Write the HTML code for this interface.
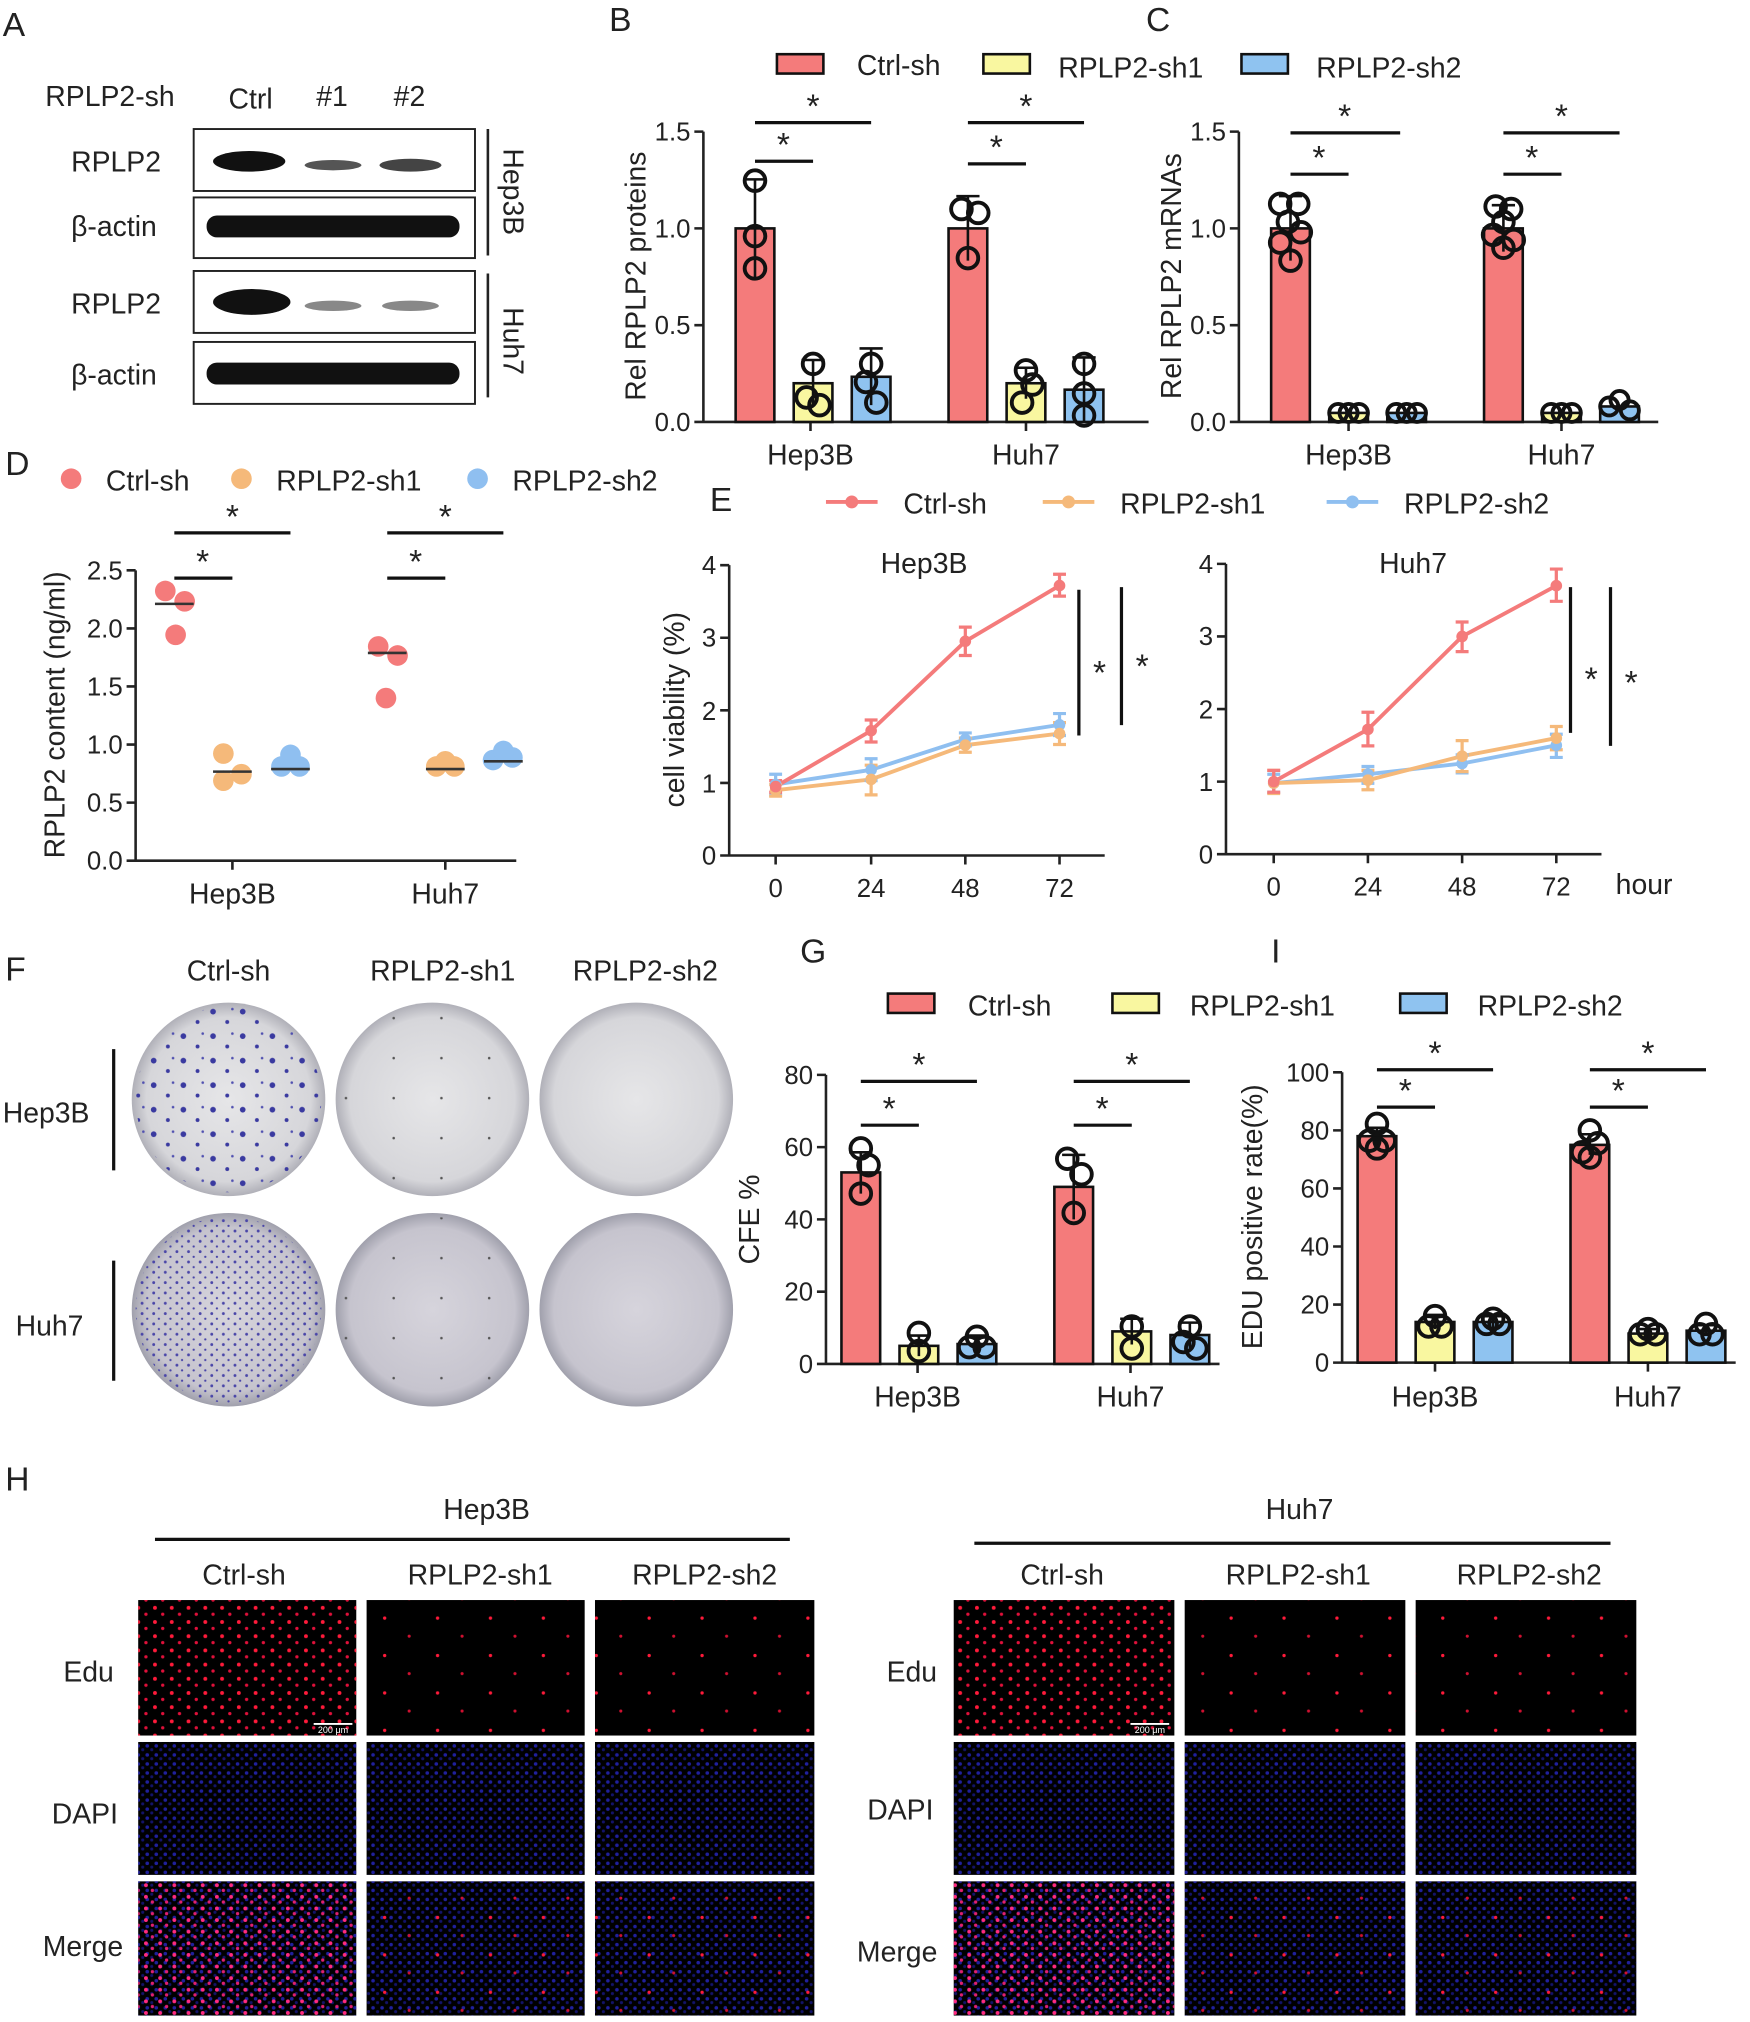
<!DOCTYPE html>
<html><head><meta charset="utf-8">
<style>
html,body{margin:0;padding:0;background:#fff;}
svg{display:block;}
text{font-family:"Liberation Sans",Arial,sans-serif;fill:#222;}
.ax{stroke:#222;stroke-width:2;fill:none}
.b{stroke:#111;stroke-width:2}
.p{fill:none;stroke:#111;stroke-width:3}
.st{stroke:#111;stroke-width:2.5}
</style></head><body>
<svg width="1750" height="2022" viewBox="0 0 1356 1567" xmlns="http://www.w3.org/2000/svg">
<defs>
<radialGradient id="plate" cx="50%" cy="50%" r="50%"><stop offset="0" stop-color="#e6e6e8"/><stop offset="0.85" stop-color="#d6d6da"/><stop offset="1" stop-color="#b0b0b8"/></radialGradient>
<radialGradient id="plate2" cx="50%" cy="50%" r="50%"><stop offset="0" stop-color="#d6d4dc"/><stop offset="0.85" stop-color="#c6c4ce"/><stop offset="1" stop-color="#a0a0ac"/></radialGradient>
<pattern id="col1" width="23" height="19" patternUnits="userSpaceOnUse"><circle cx="4" cy="5" r="2.2" fill="#3a3aa0"/><circle cx="15" cy="13" r="1.5" fill="#3a3aa0"/><circle cx="19" cy="3" r="1" fill="#5050b0"/></pattern>
<pattern id="col2" width="9" height="8" patternUnits="userSpaceOnUse"><circle cx="2" cy="2" r="1.1" fill="#4a46a8"/><circle cx="6" cy="6" r="0.9" fill="#4a46a8"/></pattern>
<pattern id="col3" width="37" height="31" patternUnits="userSpaceOnUse"><circle cx="9" cy="14" r="1" fill="#555"/></pattern>
<pattern id="red1" width="13" height="11" patternUnits="userSpaceOnUse"><circle cx="3" cy="3" r="1.5" fill="#ff1a3a"/><circle cx="9" cy="8" r="1.3" fill="#e0103a"/></pattern>
<pattern id="red2" width="41" height="29" patternUnits="userSpaceOnUse"><circle cx="11" cy="7" r="1.3" fill="#ff1a3a"/><circle cx="30" cy="21" r="1.2" fill="#d01030"/></pattern>
<pattern id="blu" width="7" height="7" patternUnits="userSpaceOnUse"><circle cx="2" cy="2" r="1.4" fill="#2a2ad0" fill-opacity="0.75"/><circle cx="5.5" cy="5" r="1.2" fill="#2020b0" fill-opacity="0.6"/></pattern>
<pattern id="mrg" width="11" height="9" patternUnits="userSpaceOnUse"><circle cx="3" cy="3" r="1.5" fill="#ff2a80"/><circle cx="8" cy="7" r="1.3" fill="#e02070"/></pattern>
</defs>
<g font-size="22">
<text x="2" y="28" font-size="26">A</text>
<text x="472" y="24" font-size="26">B</text>
<text x="888" y="24" font-size="26">C</text>
<text x="4" y="368" font-size="26">D</text>
<text x="550" y="396" font-size="26">E</text>
<text x="4" y="760" font-size="26">F</text>
<text x="620" y="746" font-size="26">G</text>
<text x="985" y="746" font-size="26">I</text>
<text x="4" y="1155" font-size="26">H</text>

<!-- Panel A -->
<text x="35" y="82">RPLP2-sh</text>
<text x="177" y="84">Ctrl</text><text x="245" y="82">#1</text><text x="305" y="82">#2</text>
<g fill="#fff" stroke="#222" stroke-width="1.5">
<rect x="150" y="100" width="218" height="48"/><rect x="150" y="153" width="218" height="47"/>
<rect x="150" y="210" width="218" height="48"/><rect x="150" y="265" width="218" height="48"/>
</g>
<g fill="#111">
<ellipse cx="193" cy="125" rx="28" ry="8"/><ellipse cx="258" cy="128" rx="22" ry="4" fill="#555"/><ellipse cx="318" cy="128" rx="24" ry="5" fill="#444"/>
<rect x="160" y="167" width="196" height="17" rx="8"/>
<ellipse cx="195" cy="234" rx="30" ry="10"/><ellipse cx="258" cy="237" rx="22" ry="4" fill="#888"/><ellipse cx="318" cy="237" rx="22" ry="4" fill="#888"/>
<rect x="160" y="281" width="196" height="17" rx="8"/>
</g>
<text x="55" y="133">RPLP2</text><text x="55" y="183">β-actin</text>
<text x="55" y="243">RPLP2</text><text x="55" y="298">β-actin</text>
<line x1="378" y1="100" x2="378" y2="198" stroke="#222" stroke-width="2"/>
<line x1="378" y1="212" x2="378" y2="308" stroke="#222" stroke-width="2"/>
<text transform="translate(390,115) rotate(90)">Hep3B</text>
<text transform="translate(390,238) rotate(90)">Huh7</text>

<!-- legend B/C -->
<rect x="602" y="42" width="36" height="15" fill="#f47b7b" stroke="#111" stroke-width="2"/><text x="664" y="58">Ctrl-sh</text>
<rect x="762" y="42" width="36" height="15" fill="#f9f7a0" stroke="#111" stroke-width="2"/><text x="820" y="60">RPLP2-sh1</text>
<rect x="962" y="42" width="36" height="15" fill="#8fc3f0" stroke="#111" stroke-width="2"/><text x="1020" y="60">RPLP2-sh2</text>

<!-- Panel B -->
<path class="ax" d="M545 102V327H890M538 327H545M538 252H545M538 177H545M538 102H545M628 327V334M795 327V334"/>
<g font-size="20" text-anchor="end"><text x="535" y="334">0.0</text><text x="535" y="259">0.5</text><text x="535" y="184">1.0</text><text x="535" y="109">1.5</text></g>
<text transform="translate(500,214) rotate(-90)" text-anchor="middle">Rel RPLP2 proteins</text>
<g class="b">
<rect x="570" y="177" width="30" height="150" fill="#f47b7b"/><rect x="615" y="297" width="30" height="30" fill="#f9f7a0"/><rect x="660" y="292" width="30" height="35" fill="#8fc3f0"/>
<rect x="735" y="177" width="30" height="150" fill="#f47b7b"/><rect x="780" y="297" width="30" height="30" fill="#f9f7a0"/><rect x="825" y="302" width="30" height="25" fill="#8fc3f0"/>
<path fill="none" d="M585 139V215M576 139H594M630 279V315M621 279H639M675 270V314M666 270H684M750 152V202M741 152H759M795 285V309M786 285H804M840 277V327M831 277H849"/>
</g>
<g class="p"><circle cx="585" cy="140" r="8"/><circle cx="585" cy="183" r="8"/><circle cx="585" cy="208" r="8"/>
<circle cx="630" cy="282" r="8"/><circle cx="625" cy="308" r="8"/><circle cx="635" cy="314" r="8"/>
<circle cx="675" cy="282" r="8"/><circle cx="671" cy="296" r="8"/><circle cx="679" cy="312" r="8"/>
<circle cx="745" cy="162" r="8"/><circle cx="758" cy="165" r="8"/><circle cx="750" cy="200" r="8"/>
<circle cx="795" cy="287" r="8"/><circle cx="800" cy="298" r="8"/><circle cx="792" cy="312" r="8"/>
<circle cx="840" cy="282" r="8"/><circle cx="840" cy="305" r="8"/><circle cx="840" cy="322" r="8"/></g>
<path class="st" d="M585 125H630M585 95H675M750 127H795M750 95H840"/>
<g font-size="26" text-anchor="middle"><text x="607" y="121">*</text><text x="630" y="91">*</text><text x="772" y="123">*</text><text x="795" y="91">*</text></g>
<text x="628" y="360" text-anchor="middle">Hep3B</text><text x="795" y="360" text-anchor="middle">Huh7</text>

<!-- Panel C -->
<path class="ax" d="M960 102V327H1285M953 327H960M953 252H960M953 177H960M953 102H960M1045 327V334M1210 327V334"/>
<g font-size="20" text-anchor="end"><text x="950" y="334">0.0</text><text x="950" y="259">0.5</text><text x="950" y="184">1.0</text><text x="950" y="109">1.5</text></g>
<text transform="translate(915,214) rotate(-90)" text-anchor="middle">Rel RPLP2 mRNAs</text>
<g class="b">
<rect x="985" y="177" width="30" height="150" fill="#f47b7b"/><rect x="1030" y="320" width="30" height="7" fill="#f9f7a0"/><rect x="1075" y="320" width="30" height="7" fill="#8fc3f0"/>
<rect x="1150" y="177" width="30" height="150" fill="#f47b7b"/><rect x="1195" y="320" width="30" height="7" fill="#f9f7a0"/><rect x="1240" y="315" width="30" height="12" fill="#8fc3f0"/>
<path fill="none" d="M1000 152V202M991 152H1009M1165 159V195M1156 159H1174"/>
</g>
<g class="p"><circle cx="992" cy="158" r="8"/><circle cx="1006" cy="158" r="8"/><circle cx="998" cy="172" r="8"/><circle cx="1008" cy="180" r="8"/><circle cx="992" cy="188" r="8"/><circle cx="1000" cy="202" r="8"/>
<circle cx="1037" cy="320" r="7"/><circle cx="1045" cy="320" r="7"/><circle cx="1053" cy="320" r="7"/>
<circle cx="1082" cy="320" r="7"/><circle cx="1090" cy="320" r="7"/><circle cx="1098" cy="320" r="7"/>
<circle cx="1159" cy="160" r="8"/><circle cx="1171" cy="162" r="8"/><circle cx="1165" cy="172" r="8"/><circle cx="1157" cy="182" r="8"/><circle cx="1173" cy="186" r="8"/><circle cx="1165" cy="192" r="8"/>
<circle cx="1202" cy="320" r="7"/><circle cx="1210" cy="320" r="7"/><circle cx="1218" cy="320" r="7"/>
<circle cx="1247" cy="315" r="7"/><circle cx="1255" cy="310" r="7"/><circle cx="1263" cy="318" r="7"/></g>
<path class="st" d="M1000 135H1045M1000 103H1085M1165 135H1210M1165 103H1255"/>
<g font-size="26" text-anchor="middle"><text x="1022" y="131">*</text><text x="1042" y="99">*</text><text x="1187" y="131">*</text><text x="1210" y="99">*</text></g>
<text x="1045" y="360" text-anchor="middle">Hep3B</text><text x="1210" y="360" text-anchor="middle">Huh7</text>

<!-- Panel D -->
<circle cx="55" cy="371" r="8" fill="#f47b7b"/><text x="82" y="380">Ctrl-sh</text>
<circle cx="187" cy="371" r="8" fill="#f5b97a"/><text x="214" y="380">RPLP2-sh1</text>
<circle cx="370" cy="371" r="8" fill="#8fbff0"/><text x="397" y="380">RPLP2-sh2</text>
<path class="ax" d="M105 442V667H400M98 667H105M98 622H105M98 577H105M98 532H105M98 487H105M98 442H105M180 667V674M345 667V674"/>
<g font-size="20" text-anchor="end"><text x="95" y="674">0.0</text><text x="95" y="629">0.5</text><text x="95" y="584">1.0</text><text x="95" y="539">1.5</text><text x="95" y="494">2.0</text><text x="95" y="449">2.5</text></g>
<text transform="translate(50,554) rotate(-90)" text-anchor="middle">RPLP2 content (ng/ml)</text>
<g fill="#f47b7b"><circle cx="128" cy="458" r="8"/><circle cx="143" cy="466" r="8"/><circle cx="136" cy="492" r="8"/><circle cx="293" cy="501" r="8"/><circle cx="308" cy="508" r="8"/><circle cx="299" cy="541" r="8"/></g>
<g fill="#f5b97a"><circle cx="173" cy="584" r="8"/><circle cx="187" cy="600" r="8"/><circle cx="173" cy="605" r="8"/><circle cx="338" cy="594" r="8"/><circle cx="352" cy="594" r="8"/><circle cx="345" cy="590" r="8"/></g>
<g fill="#8fbff0"><circle cx="218" cy="594" r="8"/><circle cx="232" cy="594" r="8"/><circle cx="225" cy="585" r="8"/><circle cx="382" cy="589" r="8"/><circle cx="397" cy="587" r="8"/><circle cx="390" cy="582" r="8"/></g>
<path stroke="#333" stroke-width="2" d="M120 468H150M165 598H195M210 596H240M285 506H315M330 596H360M375 590H405"/>
<path class="st" d="M135 448H180M135 413H225M300 448H345M300 413H390"/>
<g font-size="26" text-anchor="middle"><text x="157" y="444">*</text><text x="180" y="409">*</text><text x="322" y="444">*</text><text x="345" y="409">*</text></g>
<text x="180" y="700" text-anchor="middle">Hep3B</text><text x="345" y="700" text-anchor="middle">Huh7</text>

<!-- Panel E legend -->
<path stroke="#f47b7b" stroke-width="3" d="M640 389H680"/><circle cx="660" cy="389" r="5" fill="#f47b7b"/><text x="700" y="398">Ctrl-sh</text>
<path stroke="#f5b97a" stroke-width="3" d="M808 389H848"/><circle cx="828" cy="389" r="5" fill="#f5b97a"/><text x="868" y="398">RPLP2-sh1</text>
<path stroke="#8fbff0" stroke-width="3" d="M1028 389H1068"/><circle cx="1048" cy="389" r="5" fill="#8fbff0"/><text x="1088" y="398">RPLP2-sh2</text>
<!-- E left -->
<path class="ax" d="M565 438V663H856M558 663H565M558 606.75H565M558 550.5H565M558 494.25H565M558 438H565M601 663V670M675 663V670M748 663V670M821 663V670"/>
<g font-size="20" text-anchor="end"><text x="555" y="670">0</text><text x="555" y="614">1</text><text x="555" y="558">2</text><text x="555" y="501">3</text><text x="555" y="445">4</text></g>
<g font-size="20" text-anchor="middle"><text x="601" y="695">0</text><text x="675" y="695">24</text><text x="748" y="695">48</text><text x="821" y="695">72</text></g>
<text x="716" y="444" text-anchor="middle">Hep3B</text>
<text transform="translate(530,550) rotate(-90)" text-anchor="middle">cell viability (%)</text>
<g fill="none" stroke-width="3">
<polyline stroke="#8fbff0" points="601,607.9 675,596.6 748,573 821,561.75"/>
<polyline stroke="#f5b97a" points="601,612.4 675,604 748,577.5 821,568.5"/>
<polyline stroke="#f47b7b" points="601,609.6 675,566.25 748,497 821,453.8"/>
</g>
<g stroke-width="2.5" fill="none">
<path stroke="#8fbff0" d="M601 600V616M675 588V605M748 568V578M821 553V570M596 600H606M596 616H606M670 588H680M670 605H680M743 568H753M743 578H753M816 553H826M816 570H826"/>
<path stroke="#f5b97a" d="M601 608V617M675 593V616M748 572V583M821 560V577M596 608H606M596 617H606M670 593H680M670 616H680M743 572H753M743 583H753M816 560H826M816 577H826"/>
<path stroke="#f47b7b" d="M601 605V614M675 558V575M748 486V508M821 445V462M596 605H606M596 614H606M670 558H680M670 575H680M743 486H753M743 508H753M816 445H826M816 462H826"/>
</g>
<g fill="#8fbff0"><circle cx="601" cy="607.9" r="4.5"/><circle cx="675" cy="596.6" r="4.5"/><circle cx="748" cy="573" r="4.5"/><circle cx="821" cy="561.75" r="4.5"/></g>
<g fill="#f5b97a"><circle cx="601" cy="612.4" r="4.5"/><circle cx="675" cy="604" r="4.5"/><circle cx="748" cy="577.5" r="4.5"/><circle cx="821" cy="568.5" r="4.5"/></g>
<g fill="#f47b7b"><circle cx="601" cy="609.6" r="4.5"/><circle cx="675" cy="566.25" r="4.5"/><circle cx="748" cy="497" r="4.5"/><circle cx="821" cy="453.8" r="4.5"/></g>
<path class="st" d="M836 457V570M869 455V562"/>
<g font-size="26" text-anchor="middle"><text x="852" y="530">*</text><text x="885" y="525">*</text></g>
<!-- E right -->
<path class="ax" d="M950 437V662H1241M943 662H950M943 605.75H950M943 549.5H950M943 493.25H950M943 437H950M987 662V669M1060 662V669M1133 662V669M1206 662V669"/>
<g font-size="20" text-anchor="end"><text x="940" y="669">0</text><text x="940" y="613">1</text><text x="940" y="557">2</text><text x="940" y="500">3</text><text x="940" y="444">4</text></g>
<g font-size="20" text-anchor="middle"><text x="987" y="694">0</text><text x="1060" y="694">24</text><text x="1133" y="694">48</text><text x="1206" y="694">72</text></g>
<text x="1095" y="444" text-anchor="middle">Huh7</text>
<g fill="none" stroke-width="3">
<polyline stroke="#8fbff0" points="987,606.9 1060,600 1133,591.7 1206,577.6"/>
<polyline stroke="#f5b97a" points="987,606.9 1060,604.6 1133,586 1206,572"/>
<polyline stroke="#f47b7b" points="987,605.75 1060,565.25 1133,493.25 1206,453.9"/>
</g>
<g stroke-width="2.5" fill="none">
<path stroke="#8fbff0" d="M987 600V614M1060 594V607M1133 585V599M1206 569V587M982 600H992M982 614H992M1055 594H1065M1055 607H1065M1128 585H1138M1128 599H1138M1201 569H1211M1201 587H1211"/>
<path stroke="#f5b97a" d="M987 597V615M1060 597V612M1133 574V598M1206 563V581M982 597H992M982 615H992M1055 597H1065M1055 612H1065M1128 574H1138M1128 598H1138M1201 563H1211M1201 581H1211"/>
<path stroke="#f47b7b" d="M987 597V614M1060 552V578M1133 482V505M1206 441V466M982 597H992M982 614H992M1055 552H1065M1055 578H1065M1128 482H1138M1128 505H1138M1201 441H1211M1201 466H1211"/>
</g>
<g fill="#8fbff0"><circle cx="987" cy="606.9" r="4.5"/><circle cx="1060" cy="600" r="4.5"/><circle cx="1133" cy="591.7" r="4.5"/><circle cx="1206" cy="577.6" r="4.5"/></g>
<g fill="#f5b97a"><circle cx="987" cy="606.9" r="4.5"/><circle cx="1060" cy="604.6" r="4.5"/><circle cx="1133" cy="586" r="4.5"/><circle cx="1206" cy="572" r="4.5"/></g>
<g fill="#f47b7b"><circle cx="987" cy="605.75" r="4.5"/><circle cx="1060" cy="565.25" r="4.5"/><circle cx="1133" cy="493.25" r="4.5"/><circle cx="1206" cy="453.9" r="4.5"/></g>
<path class="st" d="M1217 455V568M1248 455V578"/>
<g font-size="26" text-anchor="middle"><text x="1233" y="535">*</text><text x="1264" y="538">*</text></g>
<text x="1252" y="693">hour</text>

<!-- Panel F -->
<text x="177" y="760" text-anchor="middle">Ctrl-sh</text><text x="343" y="760" text-anchor="middle">RPLP2-sh1</text><text x="500" y="760" text-anchor="middle">RPLP2-sh2</text>
<path class="st" d="M88 813V907M88 977V1070"/>
<text x="2" y="870">Hep3B</text><text x="12" y="1035">Huh7</text>
<circle cx="177" cy="852" r="75" fill="url(#plate)"/><circle cx="177" cy="852" r="72" fill="url(#col1)"/>
<circle cx="335" cy="852" r="75" fill="url(#plate)"/><circle cx="335" cy="852" r="72" fill="url(#col3)"/>
<circle cx="493" cy="852" r="75" fill="url(#plate)"/>
<circle cx="177" cy="1015" r="75" fill="url(#plate2)"/><circle cx="177" cy="1015" r="72" fill="url(#col2)"/>
<circle cx="335" cy="1015" r="75" fill="url(#plate2)"/><circle cx="335" cy="1015" r="72" fill="url(#col3)"/>
<circle cx="493" cy="1015" r="75" fill="url(#plate2)"/>

<!-- legend G/I -->
<rect x="688" y="770" width="36" height="15" fill="#f47b7b" stroke="#111" stroke-width="2"/><text x="750" y="787">Ctrl-sh</text>
<rect x="862" y="770" width="36" height="15" fill="#f9f7a0" stroke="#111" stroke-width="2"/><text x="922" y="787">RPLP2-sh1</text>
<rect x="1085" y="770" width="36" height="15" fill="#8fc3f0" stroke="#111" stroke-width="2"/><text x="1145" y="787">RPLP2-sh2</text>

<!-- Panel G -->
<path class="ax" d="M640 833V1057H945M633 1057H640M633 1001H640M633 945H640M633 889H640M633 833H640M711 1057V1064M876 1057V1064"/>
<g font-size="20" text-anchor="end"><text x="630" y="1064">0</text><text x="630" y="1008">20</text><text x="630" y="952">40</text><text x="630" y="896">60</text><text x="630" y="840">80</text></g>
<text transform="translate(588,945) rotate(-90)" text-anchor="middle">CFE %</text>
<g class="b">
<rect x="652" y="908.6" width="30" height="148.4" fill="#f47b7b"/><rect x="697" y="1043" width="30" height="14" fill="#f9f7a0"/><rect x="742" y="1041.6" width="30" height="15.4" fill="#8fc3f0"/>
<rect x="817" y="919.8" width="30" height="137.2" fill="#f47b7b"/><rect x="862" y="1031.8" width="30" height="25.2" fill="#f9f7a0"/><rect x="907" y="1034.6" width="30" height="22.4" fill="#8fc3f0"/>
<path fill="none" d="M667 893V925M658 893H676M712 1035V1051M703 1035H721M757 1035V1048M748 1035H766M832 895V945M823 895H841M877 1022V1042M868 1022H886M922 1025V1045M913 1025H931"/>
</g>
<g class="p"><circle cx="667" cy="890" r="8"/><circle cx="673" cy="903" r="8"/><circle cx="667" cy="925" r="8"/>
<circle cx="712" cy="1033" r="8"/><circle cx="712" cy="1047" r="8"/>
<circle cx="757" cy="1036" r="8"/><circle cx="751" cy="1044" r="8"/><circle cx="763" cy="1044" r="8"/>
<circle cx="827" cy="898" r="8"/><circle cx="838" cy="910" r="8"/><circle cx="832" cy="940" r="8"/>
<circle cx="877" cy="1028" r="8"/><circle cx="877" cy="1045" r="8"/>
<circle cx="922" cy="1028" r="8"/><circle cx="917" cy="1040" r="8"/><circle cx="927" cy="1045" r="8"/></g>
<path class="st" d="M667 872H712M667 838H757M832 872H877M832 838H922"/>
<g font-size="26" text-anchor="middle"><text x="689" y="868">*</text><text x="712" y="834">*</text><text x="854" y="868">*</text><text x="877" y="834">*</text></g>
<text x="711" y="1090" text-anchor="middle">Hep3B</text><text x="876" y="1090" text-anchor="middle">Huh7</text>

<!-- Panel I -->
<path class="ax" d="M1040 831V1056H1345M1033 1056H1040M1033 1011H1040M1033 966H1040M1033 921H1040M1033 876H1040M1033 831H1040M1112 1056V1063M1277 1056V1063"/>
<g font-size="20" text-anchor="end"><text x="1030" y="1063">0</text><text x="1030" y="1018">20</text><text x="1030" y="973">40</text><text x="1030" y="928">60</text><text x="1030" y="883">80</text><text x="1030" y="838">100</text></g>
<text transform="translate(978,943) rotate(-90)" text-anchor="middle">EDU positive rate(%)</text>
<g class="b">
<rect x="1052" y="880.5" width="30" height="175.5" fill="#f47b7b"/><rect x="1097" y="1024.5" width="30" height="31.5" fill="#f9f7a0"/><rect x="1142" y="1024.5" width="30" height="31.5" fill="#8fc3f0"/>
<rect x="1217" y="887.25" width="30" height="168.75" fill="#f47b7b"/><rect x="1262" y="1033.5" width="30" height="22.5" fill="#f9f7a0"/><rect x="1307" y="1031.25" width="30" height="24.75" fill="#8fc3f0"/>
<path fill="none" d="M1067 874V887M1058 874H1076M1112 1019V1030M1103 1019H1121M1157 1020V1029M1148 1020H1166M1232 879V895M1223 879H1241M1277 1030V1037M1268 1030H1286M1322 1027V1035M1313 1027H1331"/>
</g>
<g class="p"><circle cx="1067" cy="871" r="8"/><circle cx="1061" cy="884" r="8"/><circle cx="1073" cy="884" r="8"/><circle cx="1067" cy="890" r="8"/>
<circle cx="1112" cy="1020" r="8"/><circle cx="1107" cy="1028" r="8"/><circle cx="1117" cy="1028" r="8"/>
<circle cx="1157" cy="1022" r="8"/><circle cx="1152" cy="1026" r="8"/><circle cx="1162" cy="1026" r="8"/>
<circle cx="1232" cy="876" r="8"/><circle cx="1226" cy="893" r="8"/><circle cx="1238" cy="886" r="8"/><circle cx="1232" cy="897" r="8"/>
<circle cx="1277" cy="1030" r="8"/><circle cx="1271" cy="1034" r="8"/><circle cx="1283" cy="1034" r="8"/>
<circle cx="1322" cy="1026" r="8"/><circle cx="1317" cy="1034" r="8"/><circle cx="1327" cy="1034" r="8"/></g>
<path class="st" d="M1067 858H1112M1067 829H1157M1232 858H1277M1232 829H1322"/>
<g font-size="26" text-anchor="middle"><text x="1089" y="854">*</text><text x="1112" y="825">*</text><text x="1254" y="854">*</text><text x="1277" y="825">*</text></g>
<text x="1112" y="1090" text-anchor="middle">Hep3B</text><text x="1277" y="1090" text-anchor="middle">Huh7</text>

<!-- Panel H -->
<text x="377" y="1177" text-anchor="middle">Hep3B</text><text x="1007" y="1177" text-anchor="middle">Huh7</text>
<path class="st" d="M120 1193H612M755 1196H1248"/>
<g text-anchor="middle"><text x="189" y="1228">Ctrl-sh</text><text x="372" y="1228">RPLP2-sh1</text><text x="546" y="1228">RPLP2-sh2</text>
<text x="823" y="1228">Ctrl-sh</text><text x="1006" y="1228">RPLP2-sh1</text><text x="1185" y="1228">RPLP2-sh2</text></g>
<g fill="#000">
<rect x="107" y="1240" width="169" height="105"/><rect x="284" y="1240" width="169" height="105"/><rect x="461" y="1240" width="170" height="105"/>
<rect x="107" y="1350" width="169" height="103"/><rect x="284" y="1350" width="169" height="103"/><rect x="461" y="1350" width="170" height="103"/>
<rect x="107" y="1458" width="169" height="104"/><rect x="284" y="1458" width="169" height="104"/><rect x="461" y="1458" width="170" height="104"/>
<rect x="739" y="1240" width="171" height="105"/><rect x="918" y="1240" width="171" height="105"/><rect x="1097" y="1240" width="171" height="105"/>
<rect x="739" y="1350" width="171" height="103"/><rect x="918" y="1350" width="171" height="103"/><rect x="1097" y="1350" width="171" height="103"/>
<rect x="739" y="1458" width="171" height="104"/><rect x="918" y="1458" width="171" height="104"/><rect x="1097" y="1458" width="171" height="104"/>
</g>
<!-- Edu -->
<rect x="107" y="1240" width="169" height="105" fill="url(#red1)"/>
<rect x="284" y="1240" width="169" height="105" fill="url(#red2)"/>
<rect x="461" y="1240" width="170" height="105" fill="url(#red2)"/>
<rect x="739" y="1240" width="171" height="105" fill="url(#red1)"/>
<rect x="918" y="1240" width="171" height="105" fill="url(#red2)"/>
<rect x="1097" y="1240" width="171" height="105" fill="url(#red2)"/>
<!-- DAPI -->
<rect x="107" y="1350" width="169" height="103" fill="url(#blu)"/><rect x="284" y="1350" width="169" height="103" fill="url(#blu)"/><rect x="461" y="1350" width="170" height="103" fill="url(#blu)"/>
<rect x="739" y="1350" width="171" height="103" fill="url(#blu)"/><rect x="918" y="1350" width="171" height="103" fill="url(#blu)"/><rect x="1097" y="1350" width="171" height="103" fill="url(#blu)"/>
<!-- Merge -->
<rect x="107" y="1458" width="169" height="104" fill="url(#blu)"/><rect x="284" y="1458" width="169" height="104" fill="url(#blu)"/><rect x="461" y="1458" width="170" height="104" fill="url(#blu)"/>
<rect x="739" y="1458" width="171" height="104" fill="url(#blu)"/><rect x="918" y="1458" width="171" height="104" fill="url(#blu)"/><rect x="1097" y="1458" width="171" height="104" fill="url(#blu)"/>
<rect x="107" y="1458" width="169" height="104" fill="url(#mrg)"/><rect x="739" y="1458" width="171" height="104" fill="url(#mrg)"/>
<rect x="284" y="1458" width="169" height="104" fill="url(#red2)"/><rect x="461" y="1458" width="170" height="104" fill="url(#red2)"/>
<rect x="918" y="1458" width="171" height="104" fill="url(#red2)"/><rect x="1097" y="1458" width="171" height="104" fill="url(#red2)"/>
<path stroke="#fff" stroke-width="1.5" d="M243 1336H273M876 1336H906"/>
<text x="258" y="1343" font-size="7" text-anchor="middle" style="fill:#fff">200 μm</text>
<text x="891" y="1343" font-size="7" text-anchor="middle" style="fill:#fff">200 μm</text>
<text x="49" y="1303">Edu</text><text x="40" y="1413">DAPI</text><text x="33" y="1516">Merge</text>
<text x="687" y="1303">Edu</text><text x="672" y="1410">DAPI</text><text x="664" y="1520">Merge</text>
</g>
</svg>
</body></html>
